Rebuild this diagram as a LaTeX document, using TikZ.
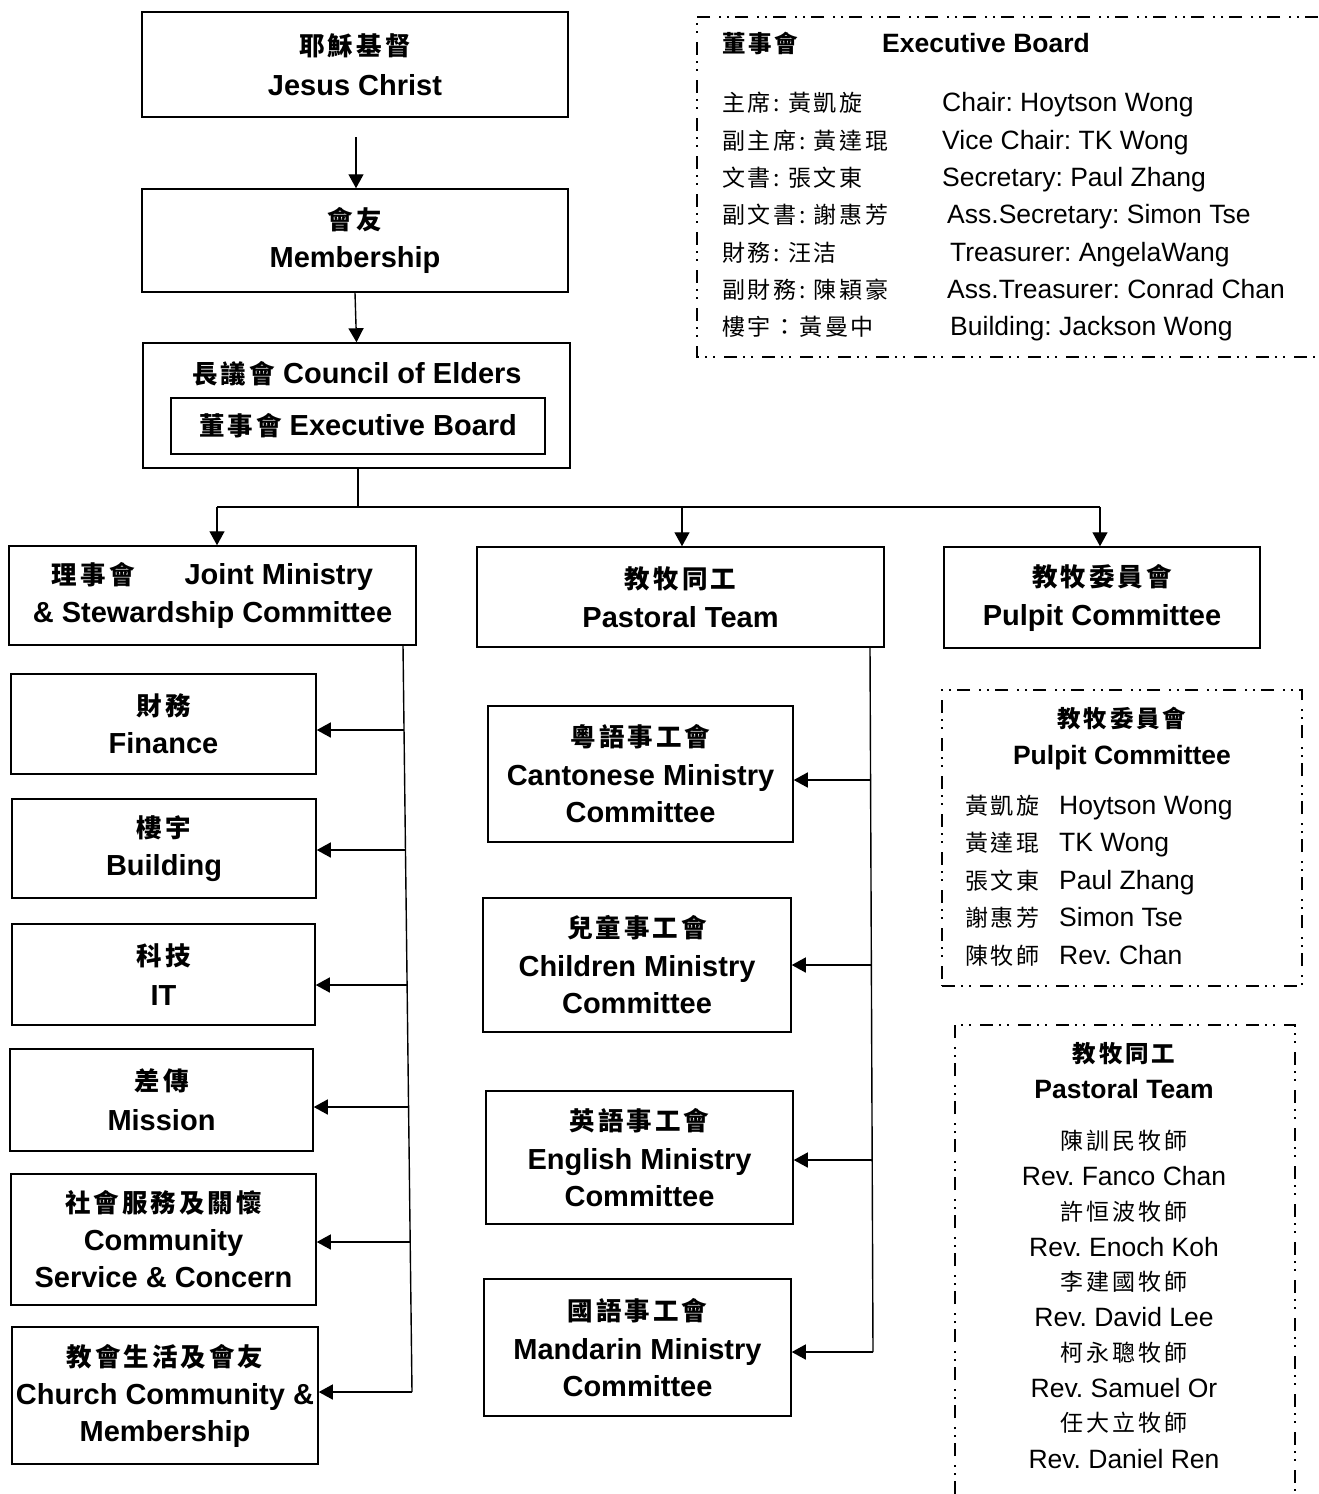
\documentclass[tikz,border=0pt]{standalone}
\usepackage{fontspec}
\setmainfont{Liberation Sans}
\newfontfamily\cjk{Noto Sans CJK TC}[LetterSpace=12]
\usetikzlibrary{arrows.meta}
\frenchspacing
\newcommand\zhb[1]{{\cjk\bfseries\fontsize{25.5}{37}\selectfont #1}}
\newcommand\zhi[1]{{\cjk\fontsize{23}{35}\selectfont #1}}
\newcommand\zhib[1]{{\cjk\bfseries\fontsize{23.5}{35}\selectfont #1}}
\newcommand\eni{\fontsize{26.5}{32}\selectfont}
\begin{document}
\begin{tikzpicture}[x=1pt,y=-1pt,
  box/.style={draw, line width=1.5pt, inner sep=0pt, align=center, font=\fontsize{29}{37}\selectfont\bfseries},
  bx/.style 2 args={box, minimum width=#1pt, minimum height=#2pt},
  arr/.style={line width=1.4pt, -{Triangle[length=14pt,width=15pt]}},
  ln/.style={line width=1.4pt},
  dbox/.style={line width=1.3pt, dash pattern=on 13pt off 6pt on 2pt off 6pt on 2pt off 9pt},
  info/.style={inner sep=0pt, anchor=base west},
  infoc/.style={inner sep=0pt, anchor=base}]
\useasboundingbox (0,0) rectangle (1318,1494);

% top chain
\node[bx={426}{105}] (jesus) at (355,64.5) {\zhb{耶穌基督}\\[3pt]Jesus Christ};
\node[bx={426}{103}] (member) at (355,240.5) {\zhb{會友}\\[1pt]Membership};
\node[bx={427}{125}] (council) at (356.5,405.5) {};
\node[infoc, font=\fontsize{29}{37}\selectfont\bfseries] (councilt) at (357,383.4) {\zhb{長議會} Council of Elders};
\node[box, line width=1.3pt, minimum width=374pt, minimum height=56pt] (exec) at (358,426) {\zhb{董事會} Executive Board};

\coordinate (jtop) at (356,137);
\draw[arr] (jtop) -- (jtop |- member.north);
\draw[arr] (member.south) -- (council.north);

% level 2
\node[bx={407}{99}] (joint) at (212.5,595.5) {\zhb{理事會}\hspace{50pt}Joint Ministry\\[1pt]\& Stewardship Committee};
\node[bx={407}{100}] (pastoral) at (680.5,597) {\zhb{教牧同工}\\[2pt]Pastoral Team};
\node[bx={316}{101}] (pulpit) at (1102,597.5) {\zhb{教牧委員會}\\[2pt]Pulpit Committee};

\coordinate (br) at (358,507);
\coordinate (bl) at (217,507);
\coordinate (bm) at (682,507);
\coordinate (bq) at (1100,507);
\draw[ln] (council.south -| br) -- (br);
\draw[ln] (bl) -- (bq);
\draw[arr] (bl) -- (bl |- joint.north);
\draw[arr] (bm) -- (bm |- pastoral.north);
\draw[arr] (bq) -- (bq |- pulpit.north);

% left column
\node[bx={305}{100}] (finance) at (163.5,724) {\zhb{財務}\\[1pt]Finance};
\node[bx={304}{99}] (building) at (164,848.5) {\zhb{樓宇}\\[1pt]Building};
\node[bx={303}{101}] (it) at (163.5,974.5) {\zhb{科技}\\[3pt]IT};
\node[bx={303}{102}] (mission) at (161.5,1100) {\zhb{差傳}\\[3pt]Mission};
\node[bx={305}{131}] (community) at (163.5,1239.5) {\zhb{社會服務及關懷}\\[1pt]Community\\Service \& Concern};
\node[bx={306}{137}] (church) at (165,1395.5) {\zhb{教會生活及會友}\\[1pt]Church Community \&\\Membership};

\coordinate (lt) at (403,645);
\coordinate (lb) at (412,1392);
\draw[ln] (lt) -- (lb);
\draw[arr] (lb) -- (lb -| church.east);
\foreach \n/\xx/\yy in {finance/404/730, building/405.5/850, it/407.1/985, mission/408.6/1107, community/410.2/1242}{
  \coordinate (l\n) at (\xx,\yy);
  \draw[arr] (l\n) -- (l\n -| \n.east);
}

% middle column
\node[bx={305}{136}] (canto) at (640.5,774) {\zhb{粵語事工會}\\[2pt]Cantonese Ministry\\Committee};
\node[bx={308}{134}] (child) at (637,965) {\zhb{兒童事工會}\\[2pt]Children Ministry\\Committee};
\node[bx={307}{133}] (english) at (639.5,1157.5) {\zhb{英語事工會}\\[2pt]English Ministry\\Committee};
\node[bx={307}{137}] (mandarin) at (637.5,1347.5) {\zhb{國語事工會}\\[2pt]Mandarin Ministry\\Committee};

\coordinate (mt) at (870,647);
\coordinate (mb) at (873,1352);
\draw[ln] (mt) -- (mb);
\draw[arr] (mb) -- (mb -| mandarin.east);
\foreach \n/\xx/\yy in {canto/870.6/780, child/871.4/965, english/872.2/1160}{
  \coordinate (m\n) at (\xx,\yy);
  \draw[arr] (m\n) -- (m\n -| \n.east);
}

% executive board info box
\draw[dbox] (1318,17) -- (697,17) -- (697,357) -- (1318,357);
\node[info] (ebzh) at (722,52.5) {\zhib{董事會}};
\node[info] (eben) at (882,52.5) {\eni\bfseries Executive Board};
\foreach \i/\yy/\zz/\ee/\xx in {
  1/111.5/主席: 黃凱旋/Chair: Hoytson Wong/942,
  2/149.5/副主席: 黃達琨/Vice Chair: TK Wong/942,
  3/186.5/文書: 張文東/Secretary: Paul Zhang/942,
  4/223.5/副文書: 謝惠芳/Ass.Secretary: Simon Tse/947,
  5/261.5/財務: 汪洁/Treasurer: AngelaWang/950,
  6/298.5/副財務: 陳穎豪/Ass.Treasurer: Conrad Chan/947,
  7/335.5/樓宇：黃曼中/Building: Jackson Wong/950}{
  \node[info] (ebz\i) at (722,\yy) {\zhi{\zz}};
  \node[info] (ebe\i) at (\xx,\yy) {\eni \ee};
}

% pulpit committee info box
\node[dbox, draw, minimum width=360pt, minimum height=296pt] (pcbox) at (1122,838) {};
\node[infoc] (pczh) at (1122,727.5) {\zhib{教牧委員會}};
\node[infoc] (pcen) at (1122,764.5) {\eni\bfseries Pulpit Committee};
\foreach \i/\yy/\zz/\ee in {
  1/814.5/黃凱旋/Hoytson Wong,
  2/851.5/黃達琨/TK Wong,
  3/889.5/張文東/Paul Zhang,
  4/926.5/謝惠芳/Simon Tse,
  5/964.5/陳牧師/Rev. Chan}{
  \node[info] (pcz\i) at (965,\yy) {\zhi{\zz}};
  \node[info] (pce\i) at (1059,\yy) {\eni \ee};
}

% pastoral team info box
\draw[dbox] (955,1494) -- (955,1025) -- (1295,1025) -- (1295,1494);
\node[infoc] (ptzh) at (1124,1062.5) {\zhib{教牧同工}};
\node[infoc] (pten) at (1124,1098.5) {\eni\bfseries Pastoral Team};
\foreach \i/\yy/\tt in {
  1/1149/{\zhi{陳訓民牧師}},
  2/1185.5/{\eni Rev. Fanco Chan},
  3/1220/{\zhi{許恒波牧師}},
  4/1256.5/{\eni Rev. Enoch Koh},
  5/1290/{\zhi{李建國牧師}},
  6/1326.5/{\eni Rev. David Lee},
  7/1361/{\zhi{柯永聰牧師}},
  8/1397.5/{\eni Rev. Samuel Or},
  9/1431/{\zhi{任大立牧師}},
  10/1468.5/{\eni Rev. Daniel Ren}}{
  \node[infoc] (ptn\i) at (1124,\yy) {\tt};
}
\end{tikzpicture}
\end{document}
